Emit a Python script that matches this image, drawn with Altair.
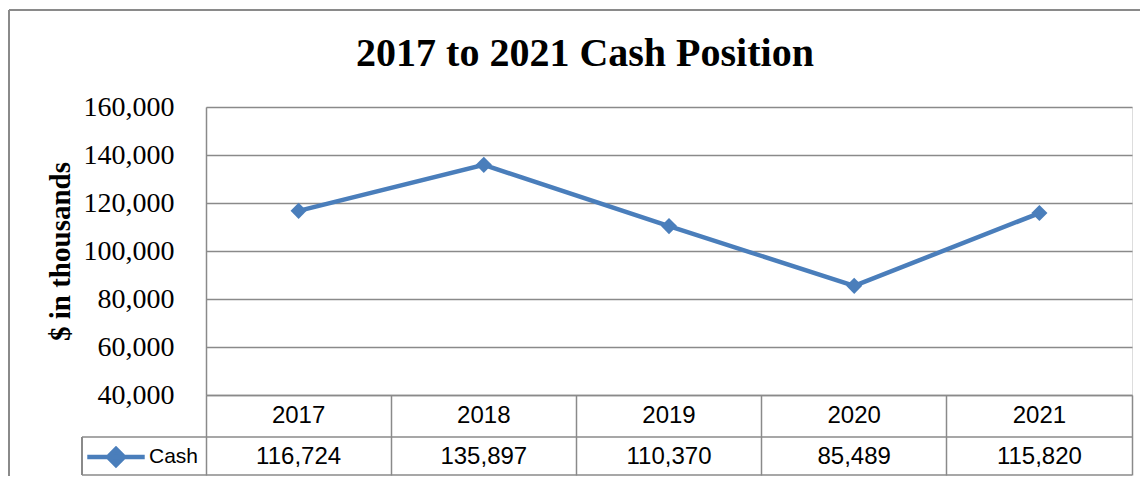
import altair as alt
import pandas as pd

years = ["2017", "2018", "2019", "2020", "2021"]
cash = [116724, 135897, 110370, 85489, 115820]
series = ["Cash"] * 5
y_ticks = [40000, 60000, 80000, 100000, 120000, 140000, 160000]

df = pd.DataFrame({"year": years, "cash": cash, "series": series})
df["label"] = [f"{v:,}" for v in cash]

W, H = 926, 288
BLUE = "#4A7EBB"
GRID = "#8A8A8A"
SERIF = "Liberation Serif"
SANS = "Liberation Sans"

xscale = alt.Scale(type="band", domain=years, paddingInner=0, paddingOuter=0)
yscale = alt.Scale(domain=[40000, 160000], nice=False, zero=False)

base = alt.Chart(df)

line = base.mark_line(
    strokeWidth=4.5,
    point=alt.OverlayMarkDef(shape="diamond", size=260, filled=True, opacity=1),
).encode(
    x=alt.X(
        "year:N",
        scale=xscale,
        bandPosition=0.5,
        title=None,
        axis=alt.Axis(
            orient="bottom",
            bandPosition=1,
            tickExtra=True,
            labels=False,
            ticks=True,
            tickSize=80,
            tickColor=GRID,
            tickWidth=1.5,
            domain=True,
            domainColor=GRID,
            domainWidth=1.5,
            grid=False,
        ),
    ),
    y=alt.Y(
        "cash:Q",
        scale=yscale,
        title="$ in thousands",
        axis=alt.Axis(
            values=y_ticks,
            format=",.0f",
            grid=True,
            gridColor=GRID,
            gridWidth=1.5,
            domain=True,
            domainColor=GRID,
            domainWidth=1.5,
            ticks=False,
            tickSize=0,
            labelPadding=32,
            labelFont=SERIF,
            labelFontSize=28,
            labelColor="black",
            labelBaseline="middle",
            titleFont=SERIF,
            titleFontSize=29,
            titleFontWeight="bold",
            titleColor="black",
            titleAngle=270,
            titleX=-146,
            titleY=144,
            titleAlign="center",
            titleBaseline="middle",
        ),
    ),
    color=alt.Color(
        "series:N",
        scale=alt.Scale(domain=["Cash"], range=[BLUE]),
        legend=alt.Legend(
            title=None,
            orient="none",
            legendX=-121,
            legendY=319,
            symbolType="M-1,0L1,0M-0.28,0L0,-0.28L0.28,0L0,0.28Z",
            symbolSize=3300,
            symbolStrokeWidth=4.5,
            symbolFillColor=BLUE,
            symbolStrokeColor=BLUE,
            symbolOffset=0,
            labelFont=SANS,
            labelFontSize=21,
            labelColor="black",
            labelOffset=2,
            padding=0,
        ),
    ),
)

years_text = base.mark_text(font=SANS, fontSize=24, color="black", baseline="middle").encode(
    x=alt.X("year:N", scale=xscale, bandPosition=0.5),
    y=alt.value(309),
    text="year:N",
)

values_text = base.mark_text(font=SANS, fontSize=24, color="black", baseline="middle").encode(
    x=alt.X("year:N", scale=xscale, bandPosition=0.5),
    y=alt.value(350),
    text="label:N",
)

row_lines = alt.Chart(pd.DataFrame({"row": [330, 368]})).mark_rule(
    color=GRID, strokeWidth=1.5
).encode(
    x=alt.value(-124),
    x2=alt.value("width"),
    y=alt.Y("row:Q", scale=None),
)

left_edge = base.mark_rule(color=GRID, strokeWidth=1.5).encode(
    x=alt.value(-124), y=alt.value(330), y2=alt.value(368)
)

frame_top = base.mark_rule(color=GRID, strokeWidth=1.5).encode(
    x=alt.value(-197), x2=alt.value(960), y=alt.value(-97)
)
frame_left = base.mark_rule(color=GRID, strokeWidth=1.5).encode(
    x=alt.value(-197), y=alt.value(-97), y2=alt.value(400)
)

chart = alt.layer(
    frame_top, frame_left, row_lines, left_edge, years_text, values_text, line
).properties(
    width=W,
    height=H,
    padding={"left": 198, "top": 99, "right": 8, "bottom": 81},
    autosize=alt.AutoSizeParams(type="none"),
    title=alt.TitleParams(
        "2017 to 2021 Cash Position",
        font=SERIF,
        fontSize=40,
        fontWeight="bold",
        color="black",
        anchor="middle",
        dx=-84,
        dy=97,
        offset=0,
        baseline="alphabetic",
    ),
).configure_view(stroke=None).configure(background="white")

chart.save("out.html", embed_options={"renderer": "svg", "actions": False})
